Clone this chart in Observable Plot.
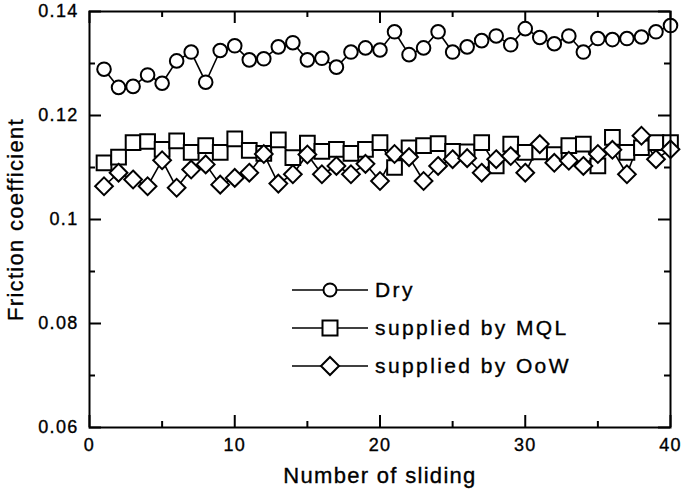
<!DOCTYPE html>
<html>
<head>
<meta charset="utf-8">
<script src="https://cdn.jsdelivr.net/npm/d3@7"></script>
<script src="https://cdn.jsdelivr.net/npm/@observablehq/plot@0.6"></script>
<style>
  html, body { margin: 0; padding: 0; background: #fff; }
  #wrap { position: relative; width: 685px; height: 497px; font-family: "Liberation Sans", Arial, sans-serif; }
  #wrap svg text { letter-spacing: 1.3px; stroke: #000; stroke-width: 0.35px; }
  #legend { position: absolute; left: 292px; top: 271px; font-size: 21px; letter-spacing: 2.4px; color: #000; -webkit-text-stroke: 0.35px #000; }
  #legend .row { display: flex; align-items: center; height: 38px; }
  #legend svg { margin-right: 7px; }
</style>
</head>
<body>
<div id="wrap"></div>
<script>
const sliding = d3.range(1, 41);
const dry = [0.1289,0.1254,0.1256,0.1278,0.1262,0.1305,0.1322,0.1264,0.1325,0.1334,
             0.1307,0.1309,0.1332,0.1340,0.1307,0.1310,0.1293,0.1322,0.1330,0.1326,
             0.1361,0.1317,0.1330,0.1361,0.1322,0.1332,0.1344,0.1353,0.1336,0.1367,
             0.1350,0.1338,0.1353,0.1322,0.1348,0.1346,0.1348,0.1351,0.1361,0.1373];
const mql = [0.1109,0.1120,0.1148,0.1150,0.1135,0.1151,0.1129,0.1142,0.1129,0.1155,
             0.1133,0.1127,0.1153,0.1119,0.1147,0.1131,0.1135,0.1127,0.1135,0.1148,
             0.1100,0.1138,0.1142,0.1146,0.1131,0.1130,0.1148,0.1103,0.1145,0.1129,
             0.1130,0.1125,0.1142,0.1145,0.1103,0.1158,0.1129,0.1138,0.1148,0.1148];
const oow = [0.1064,0.1090,0.1077,0.1064,0.1114,0.1061,0.1096,0.1106,0.1067,0.1080,
             0.1090,0.1126,0.1069,0.1087,0.1125,0.1087,0.1103,0.1087,0.1107,0.1074,
             0.1126,0.1120,0.1074,0.1103,0.1116,0.1118,0.1090,0.1116,0.1122,0.1090,
             0.1145,0.1109,0.1113,0.1103,0.1126,0.1134,0.1087,0.1161,0.1116,0.1135];
const seriesNames = ["Dry", "supplied by MQL", "supplied by OoW"];
const xMajor = [0, 10, 20, 30, 40];
const xMinor = [5, 15, 25, 35];
const yMajor = [0.06, 0.08, 0.1, 0.12, 0.14];
const yMinor = [0.07, 0.09, 0.11, 0.13];
const xTitle = "Number of sliding";
const yTitle = "Friction coefficient";

const toRows = (vals) => sliding.map((x, i) => ({x, y: vals[i]}));
const rDry = toRows(dry), rMql = toRows(mql), rOow = toRows(oow);

const fmtY = d => String(+d.toFixed(2));
const W = 685, H = 497, mT = 11, mB = 70, mL = 89, mR = 15;
const FW = W - mL - mR, FH = H - mT - mB;
const MAJ = 12, MIN = 6;
const ident = d => d;

const chart = Plot.plot({
  width: W, height: H,
  marginTop: mT, marginBottom: mB, marginLeft: mL, marginRight: mR,
  style: {fontFamily: "'Liberation Sans', Arial, sans-serif", fontSize: "18px", color: "#000", background: "#fff"},
  x: {domain: [0, 40]},
  y: {domain: [0.06, 0.14]},
  marks: [
    // inward ticks: major & minor, all four sides
    Plot.tickX(xMajor, {x: ident, insetTop: FH - MAJ, stroke: "#000", strokeWidth: 2}),
    Plot.tickX(xMajor, {x: ident, insetBottom: FH - MAJ, stroke: "#000", strokeWidth: 2}),
    Plot.tickX(xMinor, {x: ident, insetTop: FH - MIN, stroke: "#000", strokeWidth: 2}),
    Plot.tickX(xMinor, {x: ident, insetBottom: FH - MIN, stroke: "#000", strokeWidth: 2}),
    Plot.tickY(yMajor, {y: ident, insetRight: FW - MAJ, stroke: "#000", strokeWidth: 2}),
    Plot.tickY(yMajor, {y: ident, insetLeft: FW - MAJ, stroke: "#000", strokeWidth: 2}),
    Plot.tickY(yMinor, {y: ident, insetRight: FW - MIN, stroke: "#000", strokeWidth: 2}),
    Plot.tickY(yMinor, {y: ident, insetLeft: FW - MIN, stroke: "#000", strokeWidth: 2}),
    Plot.line(rDry, {x: "x", y: "y", stroke: "#000", strokeWidth: 1.6}),
    Plot.line(rMql, {x: "x", y: "y", stroke: "#000", strokeWidth: 1.6}),
    Plot.line(rOow, {x: "x", y: "y", stroke: "#000", strokeWidth: 1.6}),
    Plot.dot(rDry, {x: "x", y: "y", symbol: "circle", r: 6.8, fill: "#fff", stroke: "#000", strokeWidth: 2}),
    Plot.dot(rMql, {x: "x", y: "y", symbol: "square", r: 8.3, fill: "#fff", stroke: "#000", strokeWidth: 2}),
    Plot.dot(rOow, {x: "x", y: "y", symbol: "diamond2", r: 8.0, fill: "#fff", stroke: "#000", strokeWidth: 2}),
    // tick labels
    Plot.axisX({anchor: "bottom", ticks: xMajor, tickSize: 0, tickPadding: 11, label: null, fontSize: 18}),
    Plot.axisY({anchor: "left", ticks: yMajor, tickSize: 0, tickPadding: 11, tickFormat: fmtY, label: null, fontSize: 18}),
    Plot.frame({stroke: "#000", strokeWidth: 2}),
    Plot.text([xTitle], {frameAnchor: "bottom", textAnchor: "middle", dy: 55, fontSize: 22, fill: "#000"}),
    Plot.text([yTitle], {frameAnchor: "left", textAnchor: "middle", dx: -74, rotate: -90, fontSize: 22, fill: "#000"})
  ]
});
const wrap = document.getElementById("wrap");
wrap.appendChild(chart);

// legend overlay
const legend = document.createElement("div");
legend.id = "legend";
const symbols = [
  '<circle cx="38" cy="12" r="6.5" fill="#fff" stroke="#000" stroke-width="2"/>',
  '<rect x="30.5" y="4.5" width="15" height="15" fill="#fff" stroke="#000" stroke-width="2"/>',
  '<path d="M38,3 L47,12 L38,21 L29,12 Z" fill="#fff" stroke="#000" stroke-width="2"/>'
];
seriesNames.forEach((name, i) => {
  const row = document.createElement("div");
  row.className = "row";
  row.innerHTML = `<svg width="76" height="24"><line x1="0" x2="76" y1="12" y2="12" stroke="#000" stroke-width="1.6"/>${symbols[i]}</svg><span>${name}</span>`;
  legend.appendChild(row);
});
wrap.appendChild(legend);
</script>
</body>
</html>
